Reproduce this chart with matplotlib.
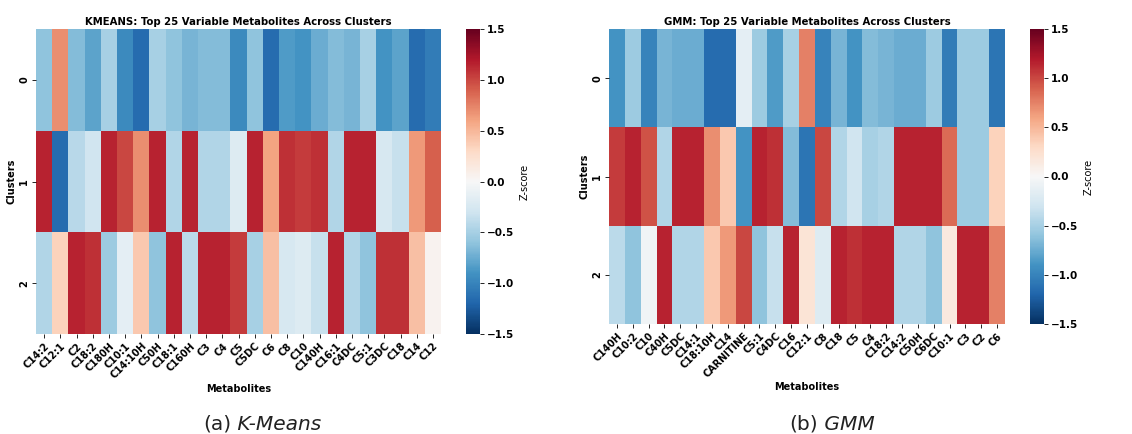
import matplotlib
matplotlib.use('Agg')
import matplotlib.pyplot as plt
import numpy as np
import seaborn as sns

# ── KMEANS 데이터 ──
km_metabolites = ['C14:2', 'C12:1', 'C2', 'C18:2', 'C180H', 'C10:1', 'C14:10H', 'C50H',
                  'C18:1', 'C160H', 'C3', 'C4', 'C5', 'C5DC', 'C6', 'C8', 'C10', 'C140H',
                  'C16:1', 'C4DC', 'C5:1', 'C3DC', 'C18', 'C14', 'C12']
km_cluster0 = [-0.60, 0.70, -0.65, -0.80, -0.50, -0.95, -1.15, -0.50, -0.60, -0.70, -0.65, -0.65,
               -0.95, -0.60, -1.15, -0.85, -0.90, -0.75, -0.65, -0.70, -0.50, -0.90, -0.80, -1.15, -1.05]
km_cluster1 = [1.15, -1.15, -0.42, -0.30, 1.15, 1.00, 0.70, 1.15, -0.45, 1.15, -0.45, -0.45,
               -0.20, 1.15, 0.60, 1.10, 1.05, 1.10, -0.45, 1.15, 1.15, -0.25, -0.35, 0.65, 0.90]
km_cluster2 = [-0.45, 0.35, 1.15, 1.10, -0.55, -0.15, 0.40, -0.60, 1.15, -0.40, 1.15, 1.15,
               1.05, -0.50, 0.45, -0.25, -0.20, -0.35, 1.15, -0.45, -0.60, 1.10, 1.10, 0.45, 0.05]

# ── GMM 데이터 ──
gmm_metabolites = ['C140H', 'C10:2', 'C10', 'C40H', 'C5DC', 'C14:1', 'C18:10H', 'C14', 'CARNITINE',
                   'C5:1', 'C4DC', 'C16', 'C12:1', 'C8', 'C18', 'C5', 'C4', 'C18:2', 'C14:2',
                   'C50H', 'C6DC', 'C10:1', 'C3', 'C2', 'C6']
gmm_cluster0 = [-0.90, -0.55, -1.00, -0.70, -0.75, -0.75, -1.15, -1.15, -0.15, -0.55, -0.85, -0.50,
                0.75, -1.00, -0.70, -0.90, -0.65, -0.70, -0.75, -0.75, -0.55, -1.05, -0.55, -0.55, -1.10]
gmm_cluster1 = [1.05, 1.15, 0.95, -0.45, 1.15, 1.15, 0.70, 0.40, -0.90, 1.15, 1.10, -0.65,
                -1.10, 1.00, -0.45, -0.30, -0.50, -0.45, 1.15, 1.15, 1.15, 0.85, -0.55, -0.55, 0.35]
gmm_cluster2 = [-0.40, -0.60, -0.05, 1.15, -0.45, -0.45, 0.40, 0.65, 1.00, -0.60, -0.35, 1.15,
                0.20, -0.20, 1.15, 1.10, 1.15, 1.15, -0.45, -0.45, -0.60, 0.15, 1.15, 1.15, 0.75]

clusters = ['0', '1', '2']

W, H = 1132, 434
fig = plt.figure(figsize=(W / 100, H / 100), dpi=100)


def px_axes(x0, y0, x1, y1):
    # 픽셀 좌표(좌상단 기준) → figure 비율
    return fig.add_axes([x0 / W, 1 - y1 / H, (x1 - x0) / W, (y1 - y0) / H])


def draw_panel(ax, cax, data, cols, title):
    sns.heatmap(np.array(data), ax=ax, cbar_ax=cax, cmap='RdBu_r', vmin=-1.5, vmax=1.5,
                xticklabels=cols, yticklabels=clusters,
                cbar_kws={'label': 'Z-score', 'ticks': [-1.5, -1.0, -0.5, 0.0, 0.5, 1.0, 1.5]})
    ax.set_title(title, fontsize=7.3, fontweight='bold', pad=3)
    ax.set_xlabel('Metabolites', fontsize=7, fontweight='bold', labelpad=2)
    ax.set_ylabel('Clusters', fontsize=7, fontweight='bold', labelpad=2)
    ax.set_xticklabels(cols, rotation=45, ha='right', fontsize=7, fontweight='bold',
                       rotation_mode='anchor')
    ax.set_yticklabels(clusters, rotation=90, fontsize=7, fontweight='bold', va='center')
    ax.tick_params(length=3, width=0.6, pad=2)
    cax.tick_params(labelsize=7.5, length=3, width=0.6, pad=2)
    for t in cax.get_yticklabels():
        t.set_fontweight('bold')
    cax.yaxis.label.set_size(7)


ax1 = px_axes(36, 29, 441, 334)
cax1 = px_axes(466, 29, 480, 334)
draw_panel(ax1, cax1, [km_cluster0, km_cluster1, km_cluster2], km_metabolites,
           'KMEANS: Top 25 Variable Metabolites Across Clusters')

ax2 = px_axes(609, 29, 1005, 324)
cax2 = px_axes(1030, 29, 1044, 324)
draw_panel(ax2, cax2, [gmm_cluster0, gmm_cluster1, gmm_cluster2], gmm_metabolites,
           'GMM: Top 25 Variable Metabolites Across Clusters')

# 캡션: 괄호 부분은 보통체, 방법 이름은 이탤릭
cap_style = dict(fontsize=14.5, color='#222222')
t_a = fig.text(203 / W, 1 - 430 / H, '(a)', ha='left', va='baseline', **cap_style)
ax1.annotate(' K-Means', xy=(1, 0), xycoords=t_a, va='bottom', ha='left',
             style='italic', annotation_clip=False, **cap_style)
t_b = fig.text(789 / W, 1 - 430 / H, '(b)', ha='left', va='baseline', **cap_style)
ax2.annotate(' GMM', xy=(1, 0), xycoords=t_b, va='bottom', ha='left',
             style='italic', annotation_clip=False, **cap_style)

plt.savefig('out.png', dpi=100, facecolor='white')
plt.close()
